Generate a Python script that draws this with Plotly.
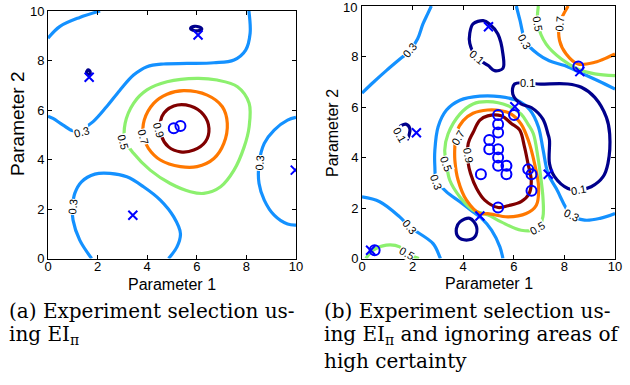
import plotly.graph_objects as go

# ---------------- data: contour paths ----------------
# Left panel (a)
a_c03_1_x = [0, 0.47, 1.28, 2.1]
a_c03_1_y = [8.9, 9.37, 9.74, 10]
a_c03_2_x = [8.1, 8.15, 7.97, 7.5, 6.69, 5.61, 4.66, 3.99, 3.45, 2.9, 2.36, 1.82, 1.42, 1.01, 0.61, 0.2, 0]
a_c03_2_y = [10, 9.1, 8.42, 8.02, 7.91, 7.88, 7.86, 7.75, 7.41, 6.8, 6.13, 5.53, 5.26, 5.16, 5.39, 5.66, 5.75]
a_c03_3_x = [1.76, 1.28, 1.01, 0.99, 1.08, 1.35, 1.89, 2.5, 3.18, 3.85, 4.53, 5.07, 5.34, 5.2, 4.86]
a_c03_3_y = [0, 0.74, 1.55, 2.09, 2.63, 3.1, 3.41, 3.44, 3.3, 2.9, 2.36, 1.68, 1.01, 0.47, 0]
a_c03_4_x = [10, 9.66, 9.12, 8.72, 8.51, 8.51, 8.72, 9.12, 9.66, 10]
a_c03_4_y = [5.7, 5.59, 5.19, 4.65, 3.84, 3.03, 2.36, 1.75, 1.39, 1.35]
a_c05_x = [6.01, 6.82, 7.64, 8.11, 8.11, 7.91, 7.5, 6.96, 6.28, 5.74, 4.93, 4.12, 3.45, 3.11, 3.11, 3.45, 3.99, 4.8, 6.01]
a_c05_y = [7.28, 7.21, 6.94, 6.27, 5.32, 4.51, 3.57, 2.9, 2.63, 2.7, 3.03, 3.57, 4.25, 4.78, 5.46, 6.27, 6.81, 7.14, 7.28]
a_c07_x = [5.47, 6.42, 7.03, 7.23, 7.09, 6.69, 6.01, 5.34, 4.53, 4.05, 3.85, 3.88, 4.26, 4.8, 5.47]
a_c07_y = [6.78, 6.6, 6.13, 5.46, 4.65, 4.04, 3.71, 3.71, 3.98, 4.45, 4.92, 5.59, 6.27, 6.64, 6.78]
a_c09_x = [5.07, 5.74, 6.28, 6.49, 6.35, 5.88, 5.34, 4.86, 4.59, 4.59, 5.07]
a_c09_y = [6.16, 6.16, 5.8, 5.26, 4.72, 4.38, 4.31, 4.51, 4.92, 5.73, 6.16]
a_c01_1_x = [1.55, 1.62, 1.7, 1.68, 1.58, 1.55]
a_c01_1_y = [7.5, 7.62, 7.55, 7.45, 7.45, 7.5]
a_c01_2_x = [5.75, 5.9, 6.1, 6.2, 6.05, 5.85, 5.75]
a_c01_2_y = [9.3, 9.38, 9.35, 9.27, 9.2, 9.22, 9.3]
a_circ_x = [5.07, 5.34]
a_circ_y = [5.26, 5.35]
a_cross_x = [1.66, 6.05, 3.42, 9.97]
a_cross_y = [7.32, 9.03, 1.75, 3.57]
a_lab_txt = ["0.3", "0.5", "0.7", "0.9", "0.3", "0.3"]
a_lab_x = [1.35, 3.04, 3.85, 4.46, 0.99, 8.55]
a_lab_y = [5.12, 4.72, 4.92, 5.19, 2.09, 3.84]
a_lab_ang = [-15, 75, 75, 75, -85, -85]

# Right panel (b)
b_c03_1_x = [0, 0.44, 0.96, 1.5, 1.89, 2.2, 2.41, 2.6, 2.74]
b_c03_1_y = [6.55, 6.97, 7.44, 7.9, 8.23, 8.7, 9.29, 9.7, 10]
b_c03_2_x = [6.1, 6.24, 6.48, 6.95, 7.4, 8.01, 8.6, 9.33, 10]
b_c03_2_y = [10, 9.45, 8.57, 8.1, 7.83, 7.64, 7.37, 7.04, 6.71]
b_c03_3_x = [0, 0.7, 1.49, 1.89, 2.81, 3.07, 3.1]
b_c03_3_y = [2.44, 2.25, 1.65, 1.25, 0.59, 0.07, 0]
b_c03_4_x = [5.57, 5.45, 5.12, 4.72, 4.38, 3.87, 3.34, 2.94, 2.88, 2.88, 3.01, 3.34, 3.87, 4.66, 5.45, 6.24, 6.64, 6.97, 7.16, 7.35, 7.68, 8.27, 8.8, 9.41, 10]
b_c03_4_y = [0, 0.46, 1.12, 1.6, 1.85, 2.25, 2.64, 3.1, 3.63, 4.29, 5.22, 5.88, 6.27, 6.43, 6.41, 6.21, 5.88, 5.22, 4.29, 3.37, 2.77, 1.72, 1.52, 1.59, 1.78]
b_c05_1_x = [0.15, 0.44, 0.96, 1.49, 1.75, 2.1, 2.25]
b_c05_1_y = [0, 0.33, 0.53, 0.46, 0.2, 0.05, 0]
b_c05_2_x = [3.87, 4.39, 4.97, 5.77, 6.29, 6.56, 6.77, 6.95, 7.08, 7.15, 7.15, 6.95, 6.29, 5.5, 4.99, 4.39, 3.87, 3.47, 3.34, 3.27, 3.4, 3.87]
b_c05_2_y = [5.72, 6.12, 6.21, 6.05, 5.72, 5.32, 4.95, 4.03, 3.1, 2.44, 1.65, 1.19, 1.12, 1.45, 1.72, 1.92, 2.44, 3.1, 3.76, 4.29, 4.93, 5.72]
b_c05_3_x = [6.97, 6.95, 7.28, 7.88, 8.54, 9.2, 10]
b_c05_3_y = [10, 9.29, 8.49, 7.9, 7.5, 7.31, 7.24]
b_c07_1_x = [8.15, 7.81, 7.81, 8.07, 8.54, 9.2, 9.72, 10]
b_c07_1_y = [10, 9.29, 8.63, 8.1, 7.7, 7.77, 7.97, 8.1]
b_c07_2_x = [3.73, 4.0, 4.39, 4.97, 5.5, 5.9, 6.29, 6.57, 6.82, 6.98, 6.89, 6.49, 5.77, 4.97, 4.66, 4.13, 3.8, 3.67, 3.67, 3.73]
b_c07_2_y = [4.99, 5.46, 5.75, 5.88, 5.85, 5.72, 5.32, 4.69, 3.76, 2.84, 2.11, 1.78, 1.65, 1.78, 1.78, 2.31, 3.1, 3.9, 4.43, 4.99]
b_c09_x = [4.39, 4.66, 4.97, 5.5, 5.9, 6.23, 6.42, 6.56, 6.69, 6.61, 6.29, 5.77, 5.38, 4.85, 4.53, 4.29, 4.2, 4.2, 4.39]
b_c09_y = [4.99, 5.48, 5.65, 5.65, 5.35, 5.09, 4.43, 3.76, 3.1, 2.58, 2.25, 2.09, 2.02, 2.31, 2.77, 3.37, 3.76, 4.56, 4.99]
b_c01_1_x = [4.79, 5.04, 5.37, 5.57, 5.57, 5.24, 4.99, 4.53, 4.26, 4.26, 4.39, 4.79]
b_c01_1_y = [9.42, 9.29, 8.89, 8.1, 7.53, 7.44, 7.64, 7.97, 8.52, 8.92, 9.29, 9.42]
b_c01_2_x = [6.56, 6.95, 8.14, 8.67, 9.2, 9.66, 9.79, 9.72, 9.53, 9.06, 8.54, 8.14, 7.61, 7.41, 7.41, 7.35, 7.15, 6.69, 6.29, 5.96, 6.03, 6.56]
b_c01_2_y = [6.95, 6.91, 6.91, 6.78, 6.38, 5.59, 4.93, 3.76, 3.24, 2.84, 2.71, 2.77, 3.24, 3.76, 4.69, 4.93, 5.52, 5.98, 6.12, 6.51, 6.91, 6.95]
b_c01_3_x = [3.87, 4.26, 4.53, 4.46, 4.13, 3.8, 3.73, 3.87]
b_c01_3_y = [1.45, 1.59, 1.25, 0.86, 0.73, 0.86, 1.19, 1.45]
b_c01_4_x = [1.49, 1.73, 1.89, 1.86, 1.78]
b_c01_4_y = [5.22, 5.32, 5.15, 4.89, 4.69]
b_circ_x = [5.38, 5.38, 5.38, 5.03, 5.03, 5.38, 5.38, 5.38, 5.71, 5.71, 4.7, 6.01, 6.57, 6.7, 6.7, 5.38, 8.55, 0.5]
b_circ_y = [5.68, 5.32, 4.99, 4.69, 4.33, 4.33, 4.0, 3.67, 3.67, 3.34, 3.34, 5.68, 3.53, 3.34, 2.68, 2.02, 7.6, 0.33]
b_cross_x = [5.0, 6.04, 2.15, 7.36, 4.66, 8.61, 0.34]
b_cross_y = [9.18, 6.01, 4.98, 3.34, 1.68, 7.4, 0.33]
b_lab_txt = ["0.3", "0.1", "0.5", "0.7", "0.3", "0.1", "0.1", "0.7", "0.9", "0.5", "0.3", "0.3", "0.5", "0.5", "0.3", "0.1"]
b_lab_x = [1.89, 4.53, 6.95, 7.81, 6.44, 6.56, 1.49, 3.8, 4.2, 3.34, 2.94, 1.89, 1.75, 6.95, 8.27, 8.54]
b_lab_y = [8.26, 7.97, 9.29, 9.29, 8.59, 6.95, 4.89, 4.76, 4.1, 3.76, 3.04, 1.25, 0.2, 1.19, 1.72, 2.71]
b_lab_ang = [-50, 40, 80, -85, 60, 0, 60, -60, 80, 70, 70, 50, 30, -30, 25, -10]

ticks = [0, 2, 4, 6, 8, 10]
tick_labels = ["0", "2", "4", "6", "8", "10"]

# ---------------- styles ----------------
COL = {"0.1": "rgb(0,0,140)", "0.3": "rgb(20,145,255)", "0.5": "rgb(140,240,110)",
       "0.7": "rgb(255,120,0)", "0.9": "rgb(128,0,0)"}
LW = 3.2

fig = go.Figure()


def line(x, y, lev, ax):
    fig.add_trace(go.Scatter(x=x, y=y, mode="lines", line=dict(color=COL[lev], width=LW, shape="spline", smoothing=1.0),
                             xaxis="x" + ax, yaxis="y" + ax, hoverinfo="skip", showlegend=False))


# panel a
line(a_c03_1_x, a_c03_1_y, "0.3", "")
line(a_c03_2_x, a_c03_2_y, "0.3", "")
line(a_c03_3_x, a_c03_3_y, "0.3", "")
line(a_c03_4_x, a_c03_4_y, "0.3", "")
line(a_c05_x, a_c05_y, "0.5", "")
line(a_c07_x, a_c07_y, "0.7", "")
line(a_c09_x, a_c09_y, "0.9", "")
line(a_c01_1_x, a_c01_1_y, "0.1", "")
line(a_c01_2_x, a_c01_2_y, "0.1", "")
# panel b
line(b_c03_1_x, b_c03_1_y, "0.3", "2")
line(b_c03_2_x, b_c03_2_y, "0.3", "2")
line(b_c03_3_x, b_c03_3_y, "0.3", "2")
line(b_c03_4_x, b_c03_4_y, "0.3", "2")
line(b_c05_1_x, b_c05_1_y, "0.5", "2")
line(b_c05_2_x, b_c05_2_y, "0.5", "2")
line(b_c05_3_x, b_c05_3_y, "0.5", "2")
line(b_c07_1_x, b_c07_1_y, "0.7", "2")
line(b_c07_2_x, b_c07_2_y, "0.7", "2")
line(b_c09_x, b_c09_y, "0.9", "2")
line(b_c01_1_x, b_c01_1_y, "0.1", "2")
line(b_c01_2_x, b_c01_2_y, "0.1", "2")
line(b_c01_3_x, b_c01_3_y, "0.1", "2")
line(b_c01_4_x, b_c01_4_y, "0.1", "2")

annotations = []


def labels(txts, xs, ys, angs, ax):
    for t, x, y, a in zip(txts, xs, ys, angs):
        annotations.append(dict(x=x, y=y, xref="x" + ax, yref="y" + ax, text=t, showarrow=False, textangle=a,
                                xanchor="center", yanchor="middle",
                                font=dict(family="Liberation Sans, Arial", size=11, color="black"),
                                bgcolor="white", borderpad=0))


labels(a_lab_txt, a_lab_x, a_lab_y, a_lab_ang, "")
labels(b_lab_txt, b_lab_x, b_lab_y, b_lab_ang, "2")

BLUE = "rgb(0,0,255)"
for cx, cy, ax in [(a_circ_x, a_circ_y, ""), (b_circ_x, b_circ_y, "2")]:
    fig.add_trace(go.Scatter(x=cx, y=cy, mode="markers", xaxis="x" + ax, yaxis="y" + ax, showlegend=False,
                             marker=dict(symbol="circle-open", size=10, color=BLUE, line=dict(width=2, color=BLUE))))
for cx, cy, ax in [(a_cross_x, a_cross_y, ""), (b_cross_x, b_cross_y, "2")]:
    fig.add_trace(go.Scatter(x=cx, y=cy, mode="markers", xaxis="x" + ax, yaxis="y" + ax, showlegend=False,
                             marker=dict(symbol="x-thin", size=9, color=BLUE, line=dict(width=2, color=BLUE))))

W, H = 630, 385
TICKFONT = dict(family="Liberation Sans, Arial", size=13, color="black")
axis_common = dict(range=[0, 10], tickvals=ticks, ticktext=tick_labels, ticks="inside", ticklen=4, tickwidth=1,
                   tickcolor="black", showline=True, linecolor="black", linewidth=1, mirror="allticks",
                   showgrid=False, zeroline=False, tickfont=TICKFONT, fixedrange=True, automargin=False)

fig.update_layout(
    width=W, height=H, margin=dict(l=0, r=0, t=0, b=0, autoexpand=False), plot_bgcolor="white", paper_bgcolor="white",
    xaxis=dict(domain=[48 / W, 296 / W], anchor="y", ticklabelstandoff=-4, **axis_common),
    yaxis=dict(domain=[(H - 258.5) / H, (H - 11) / H], anchor="x", **axis_common),
    xaxis2=dict(domain=[362 / W, 615 / W], anchor="y2", ticklabelstandoff=-4, **axis_common),
    yaxis2=dict(domain=[(H - 258.5) / H, (H - 6) / H], anchor="x2", **axis_common),
)

# top tick label of panel (b) sits at the page edge, where plotly would drop it
annotations.append(dict(x=0, y=ticks[-1], xref="x2 domain", yref="y2", text=tick_labels[-1], showarrow=False,
                        xanchor="right", yanchor="middle", xshift=-3, yshift=-1, font=TICKFONT))

tf = dict(family="Liberation Sans, Arial", size=16, color="black")
annotations += [
    dict(x=172 / W, y=1 - 284 / H, xref="paper", yref="paper", text="Parameter 1", showarrow=False, font=tf,
         xanchor="center", yanchor="middle"),
    dict(x=488.5 / W, y=1 - 283 / H, xref="paper", yref="paper", text="Parameter 1", showarrow=False, font=tf,
         xanchor="center", yanchor="middle"),
    dict(x=17 / W, y=1 - 124 / H, xref="paper", yref="paper", text="Parameter 2", showarrow=False, textangle=-90,
         xanchor="center", yanchor="middle", font=dict(family="Liberation Sans, Arial", size=19, color="black")),
    dict(x=332 / W, y=1 - 133 / H, xref="paper", yref="paper", text="Parameter 2", showarrow=False, textangle=-90,
         xanchor="center", yanchor="middle", font=tf),
]

cf = dict(family="DejaVu Serif", size=20, color="black")
cap_a = ["(a) Experiment selection us-", "ing EI<sub>π</sub>"]
cap_b = ["(b) Experiment selection us-", "ing EI<sub>π</sub> and ignoring areas of", "high certainty"]
line_y = [311, 335, 361]
for i, t in enumerate(cap_a):
    annotations.append(dict(x=7 / W, y=1 - line_y[i] / H, xref="paper", yref="paper", text=t, showarrow=False,
                            xanchor="left", yanchor="middle", font=cf))
for i, t in enumerate(cap_b):
    annotations.append(dict(x=322 / W, y=1 - line_y[i] / H, xref="paper", yref="paper", text=t, showarrow=False,
                            xanchor="left", yanchor="middle", font=cf))

fig.update_layout(annotations=annotations)
fig.write_html("out.html", config={"displayModeBar": False},
               post_script="document.body.style.margin='0px';document.body.style.overflow='hidden';")
